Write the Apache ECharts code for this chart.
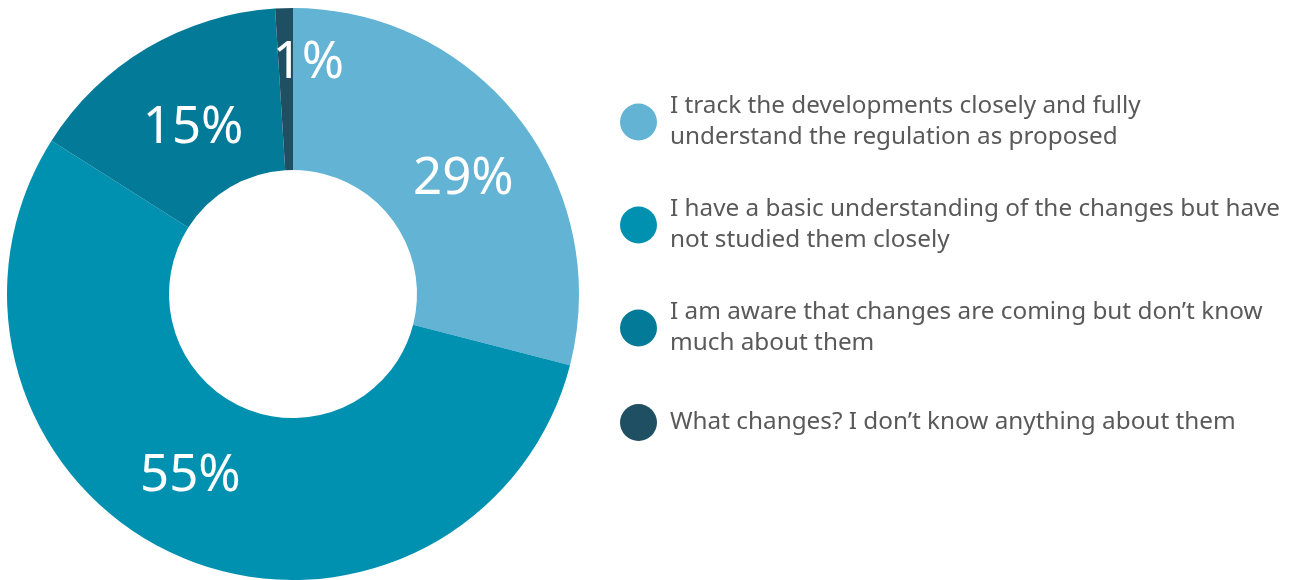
<!DOCTYPE html>
<html>
<head>
<meta charset="utf-8">
<script src="https://cdn.jsdelivr.net/npm/echarts@6/dist/echarts.min.js"></script>
<style>
  html, body { margin: 0; padding: 0; background: #fff; }
  #chart { width: 1291px; height: 580px; }
</style>
</head>
<body>
<div id="chart"></div>
<script>
const categories = [
  "I track the developments closely and fully understand the regulation as proposed",
  "I have a basic understanding of the changes but have not studied them closely",
  "I am aware that changes are coming but don’t know much about them",
  "What changes? I don’t know anything about them",
];
const legendLines = [
  "I track the developments closely and fully\nunderstand the regulation as proposed",
  "I have a basic understanding of the changes but have\nnot studied them closely",
  "I am aware that changes are coming but don’t know\nmuch about them",
  "What changes? I don’t know anything about them",
];
const shares = [29, 55, 15, 1];
const colors = ["#62b3d4", "#0091b1", "#037a97", "#1f4f63"];
const legendTops = [91, 194, 297, 404];
// nudges for the in-slice percentage labels, [dx, dy]
const labelShift = [
  [6, 13],
  [-20, -8],
  [6, 14],
  [22, -23],
];

const chart = echarts.init(document.getElementById("chart"));

const ellipse = "path://M0,50 A50,50 0 1,1 100,50 A50,50 0 1,1 0,50 Z";

chart.setOption({
  animation: false,
  color: colors,
  legend: categories.map((name, i) => ({
    data: [name],
    orient: "vertical",
    left: 620,
    top: legendTops[i],
    padding: 0,
    icon: ellipse,
    itemWidth: 37,
    itemHeight: 37,
    itemGap: 0,
    selectedMode: false,
    formatter: () => legendLines[i],
    textStyle: {
      color: "#595959",
      fontFamily: "Noto Sans",
      fontSize: 24.3,
      lineHeight: 31,
      padding: [0, 0, 0, 8],
    },
  })),
  series: [
    {
      type: "pie",
      center: [293, 294],
      radius: [124, 286],
      startAngle: 90,
      clockwise: true,
      avoidLabelOverlap: false,
      label: {
        show: true,
        position: "inside",
        formatter: "{c}%",
        color: "#fff",
        fontFamily: "Noto Sans",
        fontSize: 51,
      },
      labelLayout: (p) => ({
        dx: labelShift[p.dataIndex][0],
        dy: labelShift[p.dataIndex][1],
      }),
      labelLine: { show: false },
      itemStyle: { borderWidth: 0 },
      emphasis: { disabled: true },
      data: categories.map((name, i) => ({ name, value: shares[i] })),
    },
  ],
});
</script>
</body>
</html>
